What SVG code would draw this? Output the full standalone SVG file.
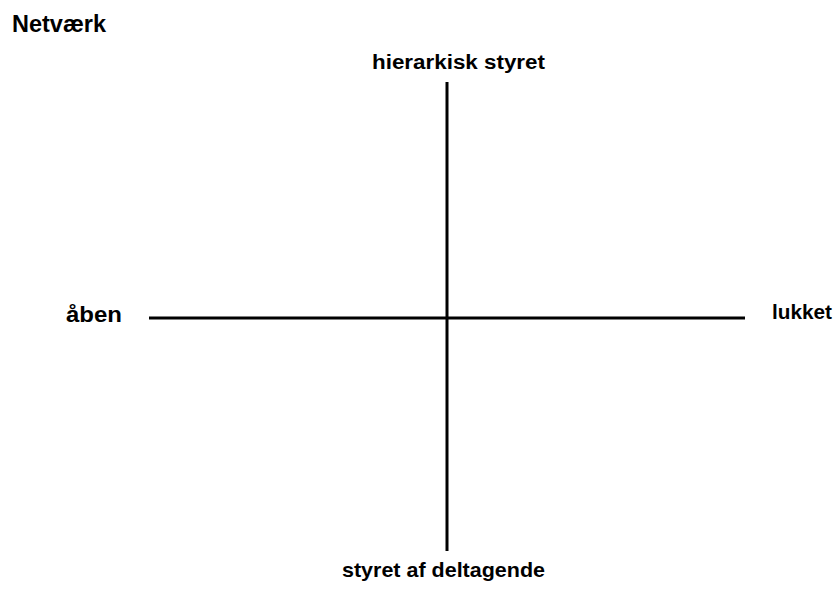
<svg xmlns="http://www.w3.org/2000/svg" width="835" height="590" viewBox="0 0 835 590">
<style>
text{font-family:"Liberation Sans",Arial,sans-serif;font-weight:bold;fill:#000}
.ax{stroke:#000;stroke-width:3;fill:none}
</style>
<rect width="835" height="590" fill="#fff"/>
<text x="12" y="32" font-size="23.5" textLength="94" lengthAdjust="spacingAndGlyphs">Netværk</text>
<g id="connectors">
<line class="ax" x1="149" y1="318" x2="745" y2="318"/>
<line class="ax" x1="447" y1="82" x2="447" y2="551"/>
</g>
<g id="top"><text x="372" y="69" font-size="20" textLength="173" lengthAdjust="spacingAndGlyphs">hierarkisk styret</text></g>
<g id="left"><text x="66" y="322" font-size="22.5" textLength="56" lengthAdjust="spacingAndGlyphs">åben</text></g>
<g id="right"><text x="772" y="319" font-size="21" textLength="60" lengthAdjust="spacingAndGlyphs">lukket</text></g>
<g id="bottom"><text x="342" y="577" font-size="20.5" textLength="203" lengthAdjust="spacingAndGlyphs">styret af deltagende</text></g>
</svg>
